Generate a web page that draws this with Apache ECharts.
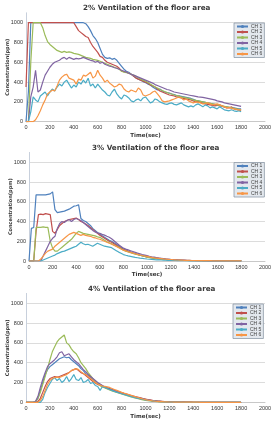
<!DOCTYPE html>
<html>
<head>
<meta charset="utf-8">
<script src="https://cdn.jsdelivr.net/npm/echarts@6/dist/echarts.min.js"></script>
<style>
  html, body { margin: 0; padding: 0; background: #fff; }
  #main { width: 278px; height: 423px; }
</style>
</head>
<body>
<div id="main"></div>
<script>
// time axis, one sample every 20 s
var time = [];
for (var t = 0; t <= 1800; t += 20) time.push(t);

var channels = ['CH 1', 'CH 2', 'CH 3', 'CH 4', 'CH 5', 'CH 6'];
var titles = ['2% Ventilation of the floor area', '3% Ventilation of the floor area', '4% Ventilation of the floor area'];
var xTicks = [0, 200, 400, 600, 800, 1000, 1200, 1400, 1600, 1800, 2000];
var yTicks = [0, 200, 400, 600, 800, 1000];

// ---- 2% ventilation ----
var v2ch1 = [0,300,1000,1000,1000,1000,1000,1000,1000,1000,
  1000,1000,1000,1000,1000,1000,1000,1000,1000,1000,
  1000,1000,1000,1000,1000,990,960,920,870,840,
  800,740,680,650,640,645,630,640,620,590,
  560,530,510,500,480,460,445,430,420,405,
  395,380,370,350,335,320,330,310,300,295,
  290,280,275,265,260,255,250,245,240,235,
  225,215,210,205,200,195,190,185,180,175,
  165,160,155,150,150,145,140,140,135,130,
  130];
var v2ch2 = [350,1000,1000,1000,1000,1000,1000,1000,1000,1000,
  1000,1000,1000,1000,1000,1000,1000,1000,1000,1000,
  1000,960,920,900,880,860,850,800,760,730,
  700,660,650,620,600,590,580,570,560,540,
  510,505,500,490,480,460,440,430,420,410,
  400,390,370,360,350,330,310,300,290,280,
  270,265,260,250,245,240,235,230,225,220,
  210,200,205,195,185,180,175,170,165,160,
  165,170,160,150,140,140,150,130,125,120,
  115];
var v2ch3 = [0,0,600,1000,1000,1000,1000,950,870,810,
  780,760,740,720,710,700,710,700,705,700,
  690,685,680,670,660,650,645,640,630,625,
  620,610,600,590,580,570,560,550,540,530,
  510,500,495,490,480,470,460,445,430,420,
  410,395,380,365,350,340,325,315,305,295,
  285,280,270,265,258,250,245,240,235,228,
  220,215,210,205,200,195,190,185,180,175,
  170,165,160,155,150,145,140,135,130,125,
  120];
var v2ch4 = [0,0,250,350,520,300,320,400,470,510,
  550,580,600,610,620,640,650,630,650,640,
  630,640,635,640,650,640,630,620,615,600,
  610,590,600,580,570,560,555,545,540,530,
  520,510,500,490,480,470,460,450,440,430,
  420,410,400,390,375,365,355,345,335,325,
  320,310,300,295,290,285,280,275,270,265,
  260,255,250,248,245,240,235,230,225,220,
  210,205,200,190,185,180,175,170,165,160,
  155];
var v2ch5 = [0,0,100,250,220,200,260,280,300,260,
  300,330,310,350,380,360,400,420,380,340,
  370,350,400,380,420,390,440,360,380,340,
  380,350,320,300,270,260,300,330,280,250,
  230,270,260,240,210,200,220,230,210,240,
  250,220,190,200,230,220,200,190,180,175,
  185,190,175,170,180,190,170,160,150,160,
  150,170,180,165,150,170,160,140,150,140,
  130,150,135,120,115,110,120,110,105,110,
  100];
var v2ch6 = [0,0,0,0,20,60,110,170,220,280,
  300,320,310,360,420,450,470,480,440,430,
  420,380,430,420,470,460,480,500,440,460,
  520,470,440,400,420,390,370,350,360,380,
  370,330,310,300,320,310,300,340,320,270,
  260,270,280,300,310,280,250,210,200,205,
  210,220,230,240,250,240,220,230,210,200,
  190,200,195,190,180,185,190,180,170,175,
  180,170,160,150,140,145,135,130,125,120,
  120];

// ---- 3% ventilation ----
var v3ch1 = [0,330,340,670,670,670,670,670,675,680,
  700,520,490,495,500,505,515,525,540,555,
  560,570,430,410,400,380,360,330,310,290,
  270,255,240,225,210,200,185,170,155,140,
  120,110,100,92,84,76,68,60,54,48,
  42,37,33,29,25,22,19,17,15,13,
  12,10,9,8,7,6,5,5,4,4,
  3,3,3,2,2,2,2,1,1,1,
  1,1,1,1,0,0,0,0,0,0,
  0];
var v3ch2 = [0,0,0,300,470,475,470,480,475,470,
  300,280,320,360,380,400,410,420,425,430,
  435,420,400,390,375,360,340,320,300,280,
  260,245,230,215,200,190,175,160,145,130,
  115,105,97,89,81,73,66,59,53,47,
  42,37,33,29,26,23,20,18,16,14,
  13,11,10,9,8,7,6,5,5,4,
  4,3,3,3,2,2,2,2,1,1,
  1,1,1,1,1,0,0,0,0,0,
  0];
var v3ch3 = [0,0,0,340,340,340,345,340,340,200,
  130,100,100,120,140,160,180,200,220,250,
  280,300,290,280,275,270,265,260,255,245,
  240,225,210,195,185,175,160,150,140,125,
  110,100,92,84,77,70,64,58,52,46,
  40,35,31,27,24,21,18,16,14,12,
  10,9,8,7,6,5,5,4,4,3,
  3,3,2,2,2,2,1,1,1,1,
  1,1,0,0,0,0,0,0,0,0,
  0];
var v3ch4 = [0,0,0,0,0,0,50,100,150,200,
  230,250,330,380,400,390,410,420,400,420,
  430,420,410,390,370,350,330,310,295,285,
  280,270,262,250,240,225,205,185,165,148,
  130,120,112,104,96,88,80,73,66,60,
  54,48,43,39,35,31,28,25,22,20,
  17,15,13,11,10,9,8,7,6,5,
  5,4,4,3,3,3,2,2,2,2,
  1,1,1,1,1,1,0,0,0,0,
  0];
var v3ch5 = [0,0,0,0,0,0,10,20,30,40,
  50,60,75,85,95,100,110,120,130,140,
  150,170,190,175,165,170,160,150,165,180,
  170,160,150,145,140,135,120,105,90,78,
  65,58,52,47,42,37,33,29,26,23,
  20,18,16,14,12,11,10,9,8,7,
  6,5,5,4,4,3,3,3,2,2,
  2,2,1,1,1,1,1,1,0,0,
  0,0,0,0,0,0,0,0,0,0,
  0];
var v3ch6 = [0,0,0,0,0,20,50,80,100,110,
  120,150,170,190,210,230,250,270,280,290,
  280,270,260,270,260,255,250,240,235,225,
  220,210,200,190,180,170,160,148,135,122,
  110,102,94,87,80,73,67,61,56,51,
  46,41,37,33,30,27,24,21,19,17,
  15,13,12,10,9,8,7,6,6,5,
  5,4,4,4,3,3,3,3,2,2,
  2,2,2,1,1,1,1,1,1,1,
  1];

// ---- 4% ventilation ----
var v4ch1 = [0,0,0,0,5,40,120,200,280,330,
  360,380,400,420,440,450,460,450,455,430,
  410,390,370,340,320,290,270,250,230,210,
  195,180,165,150,140,130,120,112,105,98,
  90,83,76,69,62,56,50,44,39,34,
  29,25,21,18,15,12,10,8,7,6,
  5,4,3,3,2,2,1,1,1,1,
  0,0,0,0,0,0,0,0,0,0,
  0,0,0,0,0,0,0,0,0,0,
  0];
var v4ch2 = [0,0,0,0,0,10,40,100,160,210,
  240,250,260,255,260,270,280,290,300,320,
  330,340,320,300,290,270,250,230,210,195,
  180,170,160,150,145,140,130,122,114,106,
  98,90,83,76,69,62,56,50,44,38,
  33,28,24,20,17,14,12,10,8,7,
  6,5,4,3,3,2,2,1,1,1,
  0,0,0,0,0,0,0,0,0,0,
  0,0,0,0,0,0,0,0,0,0,
  0];
var v4ch3 = [0,0,0,0,10,40,100,180,260,340,
  430,510,560,610,640,660,680,600,580,540,
  510,490,450,400,370,340,300,270,240,210,
  190,170,155,145,135,125,115,108,100,92,
  85,78,70,62,55,48,42,36,30,25,
  20,16,13,10,8,6,5,4,3,2,
  2,1,1,1,0,0,0,0,0,0,
  0,0,0,0,0,0,0,0,0,0,
  0,0,0,0,0,0,0,0,0,0,
  0];
var v4ch4 = [0,0,0,0,10,60,150,230,300,360,
  390,410,430,460,500,510,470,480,490,460,
  430,410,390,360,330,310,280,260,240,220,
  200,185,170,155,145,135,125,116,108,100,
  92,84,77,70,63,56,50,44,38,33,
  28,24,20,17,14,11,9,7,6,5,
  4,3,2,2,1,1,1,0,0,0,
  0,0,0,0,0,0,0,0,0,0,
  0,0,0,0,0,0,0,0,0,0,
  0];
var v4ch5 = [0,0,0,0,0,0,0,30,100,150,
  190,230,250,220,240,200,220,260,210,240,
  280,230,220,250,200,210,230,190,200,170,
  160,120,160,150,140,130,120,110,102,94,
  86,79,72,65,58,51,45,39,34,29,
  24,20,17,14,11,9,7,6,5,4,
  3,2,2,1,1,1,0,0,0,0,
  0,0,0,0,0,0,0,0,0,0,
  0,0,0,0,0,0,0,0,0,0,
  0];
var v4ch6 = [0,0,0,0,0,0,20,60,120,180,
  220,240,250,255,250,260,270,280,300,320,
  330,340,330,310,290,280,260,240,220,200,
  185,175,165,160,155,150,140,130,120,110,
  100,92,85,78,70,62,55,48,40,33,
  27,22,18,14,11,9,7,6,5,4,
  3,3,2,2,2,1,1,1,1,1,
  1,1,1,0,0,0,0,0,0,0,
  0,0,0,0,0,0,0,0,0,0,
  0];

var panels = [
  [v2ch1, v2ch2, v2ch3, v2ch4, v2ch5, v2ch6],
  [v3ch1, v3ch2, v3ch3, v3ch4, v3ch5, v3ch6],
  [v4ch1, v4ch2, v4ch3, v4ch4, v4ch5, v4ch6]
];

var colors = ['#4F81BD', '#C0504D', '#9BBB59', '#8064A2', '#4BACC6', '#F79646'];

// layout of the three panels (px)
var grids = [
  {left: 26, top: 12.8, height: 108.9},
  {left: 29, top: 152.4, height: 108.6},
  {left: 26, top: 293.4, height: 108.9}
];
var titleLeft = [83, 92, 88];
var titleTop = [5, 145, 286];
var legendPos = [[234, 23], [234, 162.5], [233, 304]];

var plain = function (v) { return String(v); };

var chart = echarts.init(document.getElementById('main'));

var option = {
  animation: false,
  color: colors,
  title: [],
  legend: [],
  grid: [],
  xAxis: [],
  yAxis: [],
  series: []
};

panels.forEach(function (panel, p) {
  option.title.push({
    text: titles[p],
    left: titleLeft[p],
    top: titleTop[p],
    padding: 0,
    textStyle: {fontFamily: 'DejaVu Sans', fontWeight: 'bold', fontSize: 7.2, color: '#3a3a3a'}
  });
  option.legend.push({
    data: channels,
    orient: 'vertical',
    left: legendPos[p][0],
    top: legendPos[p][1],
    padding: [1, 2],
    itemGap: 0.5,
    itemWidth: 11,
    itemHeight: 4,
    backgroundColor: '#e3e8ee',
    borderColor: '#8e9aa8',
    borderWidth: 0.8,
    textStyle: {fontFamily: 'Liberation Sans', fontSize: 5, lineHeight: 4.3, color: '#444', padding: [0, 0, 0, -2]}
  });
  option.grid.push({
    left: grids[p].left, right: 13, top: grids[p].top, height: grids[p].height,
    outerBoundsMode: 'none', containLabel: false
  });
  option.xAxis.push({
    gridIndex: p,
    type: 'value',
    min: xTicks[0],
    max: xTicks[xTicks.length - 1],
    interval: 200,
    name: 'Time(sec)',
    nameLocation: 'middle',
    nameGap: 11,
    nameMoveOverlap: false,
    nameTextStyle: {fontFamily: 'DejaVu Sans', fontWeight: 'bold', fontSize: 5.5, color: '#333'},
    axisLine: {lineStyle: {color: '#c8c8c8'}},
    axisTick: {show: false},
    axisLabel: {margin: 3, fontFamily: 'Liberation Sans', fontSize: 5.5, color: '#333', formatter: plain},
    splitLine: {show: false}
  });
  option.yAxis.push({
    gridIndex: p,
    type: 'value',
    min: yTicks[0],
    max: 1100,
    interval: 200,
    name: 'Concentration(ppm)',
    nameLocation: 'middle',
    nameGap: 16,
    nameMoveOverlap: false,
    nameTextStyle: {fontFamily: 'DejaVu Sans', fontWeight: 'bold', fontSize: 5, color: '#333'},
    axisLine: {show: true, lineStyle: {color: '#c8d0dc'}},
    axisTick: {show: false},
    axisLabel: {margin: 3, fontFamily: 'Liberation Sans', fontSize: 5.5, color: '#333', showMaxLabel: false, formatter: plain},
    splitLine: {show: true, showMaxLine: false, lineStyle: {color: '#dcdcdc', width: 1}}
  });
  panel.forEach(function (vals, c) {
    option.series.push({
      name: channels[c],
      type: 'line',
      xAxisIndex: p,
      yAxisIndex: p,
      showSymbol: false,
      symbol: 'none',
      lineStyle: {width: 1.2, color: colors[c]},
      itemStyle: {color: colors[c]},
      data: time.map(function (tt, i) { return [tt, vals[i]]; })
    });
  });
});

chart.setOption(option);
</script>
</body>
</html>
